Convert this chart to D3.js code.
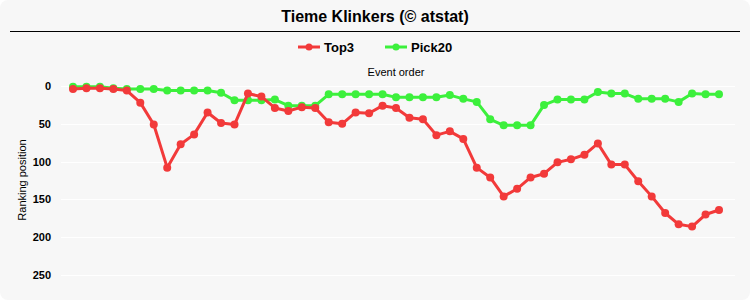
<!DOCTYPE html>
<html>
<head>
<meta charset="utf-8">
<script src="https://cdn.jsdelivr.net/npm/d3@7"></script>
<style>
  body { margin: 0; background: #fff; }
  svg { display: block; font-family: "Liberation Sans", Arial, sans-serif; }
</style>
</head>
<body>
<svg width="750" height="300"></svg>
<script>
var svg = d3.select("svg"),
    width = 750,
    height = 300;

// the data
var seriesNames = ["Top3", "Pick20"];
var seriesColors = ["#f23a3a", "#3cf03c"];
var top3 = [4, 3, 3, 4, 6, 22, 51, 108, 77, 64, 35, 49, 51, 10, 14, 29, 33, 28, 29, 48,
            50, 35, 36, 26, 29, 42, 44, 65, 60, 70, 108, 121, 146, 136, 121, 116, 101, 97, 91, 76,
            104, 104, 126, 146, 168, 183, 186, 170, 164];
var pick20 = [1, 1, 1, 3, 4, 4, 4, 6, 6, 6, 6, 9, 19, 19, 19, 18, 26, 26, 26, 11,
              11, 11, 11, 11, 15, 15, 15, 15, 12, 17, 21, 44, 52, 52, 52, 25, 18, 18, 18, 8,
              10, 10, 17, 17, 17, 21, 10, 11, 11];
var yTicks = [0, 50, 100, 150, 200, 250];

// background panel
svg.append("rect")
    .attr("x", 0).attr("y", 0)
    .attr("width", width).attr("height", height)
    .attr("rx", 8)
    .attr("fill", "#f7f7f7");

// title
svg.append("text")
    .attr("x", 375).attr("y", 22)
    .attr("text-anchor", "middle")
    .attr("font-size", 16).attr("font-weight", "bold")
    .attr("fill", "#000")
    .text("Tieme Klinkers (\u00a9 atstat)");

svg.append("line")
    .attr("x1", 10).attr("x2", 740)
    .attr("y1", 31.5).attr("y2", 31.5)
    .attr("stroke", "#000").attr("stroke-width", 1);

// scales
var x = d3.scaleLinear().domain([0, top3.length - 1]).range([73, 719]);
var y = d3.scaleLinear().domain([0, 250]).range([86, 275]);

// gridlines
svg.append("g")
    .selectAll("line")
    .data(yTicks)
    .enter().append("line")
    .attr("x1", 61).attr("x2", 735)
    .attr("y1", d => Math.round(y(d)) + 0.5)
    .attr("y2", d => Math.round(y(d)) + 0.5)
    .attr("stroke", "#ffffff").attr("stroke-width", 1);

// y axis labels
var yAxis = d3.axisLeft(y).tickValues(yTicks).tickSize(0).tickPadding(0);
var ga = svg.append("g")
    .attr("transform", "translate(51,0)")
    .call(yAxis);
ga.select(".domain").remove();
ga.selectAll("text")
    .attr("font-size", 11).attr("font-weight", "bold")
    .attr("font-family", "Liberation Sans, Arial, sans-serif")
    .attr("fill", "#000");

svg.append("text")
    .attr("transform", "translate(26,180) rotate(-90)")
    .attr("text-anchor", "middle")
    .attr("font-size", 11)
    .attr("fill", "#000")
    .text("Ranking position");

svg.append("text")
    .attr("x", 396).attr("y", 76)
    .attr("text-anchor", "middle")
    .attr("font-size", 11)
    .attr("fill", "#000")
    .text("Event order");

// legend
var legendX = [298, 385];
var legend = svg.append("g")
    .selectAll("g")
    .data(seriesNames)
    .enter().append("g")
    .attr("transform", (d, i) => "translate(" + legendX[i] + ",47)");
legend.append("line")
    .attr("x1", 0).attr("x2", 22)
    .attr("stroke", (d, i) => seriesColors[i]).attr("stroke-width", 3);
legend.append("circle")
    .attr("cx", 11).attr("r", 3.5)
    .attr("fill", (d, i) => seriesColors[i]);
legend.append("text")
    .attr("x", 26).attr("y", 5)
    .attr("font-size", 13).attr("font-weight", "bold")
    .attr("fill", "#000")
    .text(d => d);

// lines
var line = d3.line()
    .x((d, i) => x(i))
    .y(d => y(d));

var allSeries = [pick20, top3];
var allColors = [seriesColors[1], seriesColors[0]];

allSeries.forEach(function(s, k) {
    var g = svg.append("g");
    g.append("path")
        .datum(s)
        .attr("d", line)
        .attr("fill", "none")
        .attr("stroke", allColors[k])
        .attr("stroke-width", 3)
        .attr("stroke-linejoin", "round");
    g.selectAll("circle")
        .data(s)
        .enter().append("circle")
        .attr("cx", (d, i) => x(i))
        .attr("cy", d => y(d))
        .attr("r", 4)
        .attr("fill", allColors[k]);
});
</script>
</body>
</html>
